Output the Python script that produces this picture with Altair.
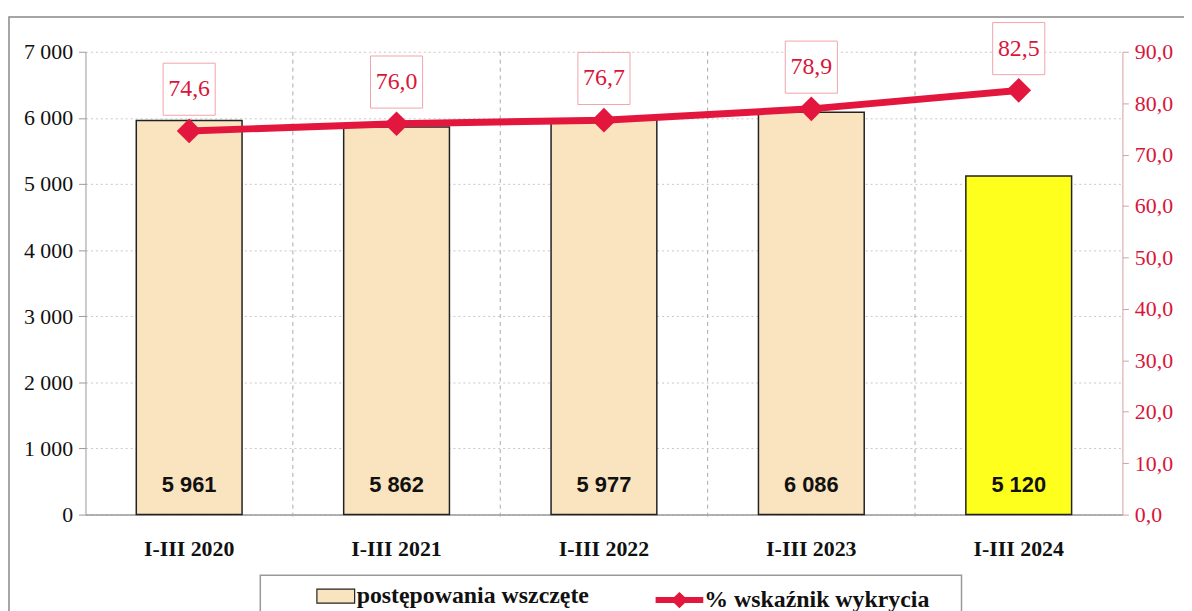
import altair as alt
import pandas as pd

categories = ["I-III 2020", "I-III 2021", "I-III 2022", "I-III 2023", "I-III 2024"]
cases = [5961, 5862, 5977, 6086, 5120]
rates = [74.6, 76.0, 76.7, 78.9, 82.5]
bar_series = "postępowania wszczęte"
line_series = "% wskaźnik wykrycia"

df = pd.DataFrame({
    "cat": categories,
    "cases": cases,
    "rate": rates,
    "s1": [bar_series] * len(categories),
    "s2": [line_series] * len(categories),
})
bounds = pd.DataFrame({"cat": categories[:-1]})
one = pd.DataFrame({"a": [0]})

W, H = 1044, 466
STEP = W / len(categories)
SERIF = "Liberation Serif"
RED = "#e3173e"
LABEL_RED = "#d8163a"

xaxis = alt.Axis(title=None, labelAngle=0, labelAlign="center", labelBaseline="top",
                 labelFont=SERIF, labelFontSize=22, labelFontWeight="bold", labelColor="#111",
                 ticks=False, grid=False, domainColor="#999", domainWidth=1.5, labelPadding=24)
xenc = alt.X("cat:N", sort=categories,
             scale=alt.Scale(paddingInner=0.49, paddingOuter=0.245), axis=xaxis)

bars = alt.Chart(df).mark_bar(stroke="#222", strokeWidth=1.5).encode(
    x=xenc,
    y=alt.Y("cases:Q", scale=alt.Scale(domain=[0, 7000]),
            axis=alt.Axis(title=None, values=list(range(0, 7001, 1000)), format=",.0f",
                          labelFont=SERIF, labelFontSize=22, labelColor="#111",
                          grid=True, gridDash=[2, 3], gridColor="#c8c8c8",
                          domainColor="#999", tickColor="#999", tickSize=7, labelPadding=6)),
    fill=alt.condition(
        alt.datum.cat == "I-III 2024",
        alt.value("#ffff1e"),
        alt.Fill("s1:N", scale=alt.Scale(domain=[bar_series], range=["#f9e4bf"]),
                 legend=alt.Legend(title=None, orient="none", legendX=232, legendY=528,
                                   symbolType="M-1,-0.37H1V0.37H-1Z", symbolSize=1444,
                                   symbolStrokeColor="#222", symbolStrokeWidth=1.2,
                                   labelFont=SERIF, labelFontSize=24, labelFontWeight="bold",
                                   labelColor="#111", labelOffset=1, labelLimit=0, padding=0)),
    ),
)

bar_labels = alt.Chart(df).mark_text(
    font="Liberation Sans", fontWeight="bold", fontSize=22, color="#111", dy=-30
).encode(x=xenc, y=alt.Y(datum=0), text=alt.Text("cases:Q", format=",.0f"))

vrules = alt.Chart(bounds).mark_rule(
    xOffset=STEP / 2, strokeDash=[4, 4], color="#aaa", strokeWidth=1
).encode(x=xenc, y=alt.value(0), y2=alt.value(H + 6))

legend_box = alt.Chart(one).mark_rect(fill=None, stroke="#999", strokeWidth=1.5).encode(
    x=alt.value(176), x2=alt.value(882), y=alt.value(527), y2=alt.value(620))

frame = alt.Chart(one).mark_rect(fill=None, stroke="#888", strokeWidth=1.5).encode(
    x=alt.value(-77), x2=alt.value(1140), y=alt.value(-35), y2=alt.value(620))

left = alt.layer(frame, vrules, bars, bar_labels, legend_box)

yr = alt.Y("rate:Q", scale=alt.Scale(domain=[0, 90]),
           axis=alt.Axis(title=None, orient="right", values=list(range(0, 91, 10)), format=".1f",
                         labelFont=SERIF, labelFontSize=22, labelColor=LABEL_RED,
                         grid=False, domainColor="#d4a0a4", tickColor="#d4a0a4",
                         tickSize=6, labelPadding=6))

line = alt.Chart(df).mark_line(color=RED, strokeWidth=7).encode(x=xenc, y=yr)
boxes = alt.Chart(df).mark_point(
    shape="square", filled=True, fill="white", stroke="#f0a4aa", strokeWidth=1,
    size=2750, opacity=1, yOffset=-42
).encode(x=xenc, y=yr)
points = alt.Chart(df).mark_point(shape="diamond", filled=True, size=620, opacity=1).encode(
    x=xenc, y=yr,
    fill=alt.Fill("s2:N", scale=alt.Scale(domain=[line_series], range=[RED]),
                  legend=alt.Legend(title=None, orient="none", legendX=574, legendY=528,
                                    symbolType="M-1,-0.13H1V0.13H-1Z M0,-0.34L0.36,0L0,0.34L-0.36,0Z",
                                    symbolSize=2304, symbolStrokeWidth=0,
                                    labelFont=SERIF, labelFontSize=24, labelFontWeight="bold",
                                    labelColor="#111", labelOffset=1, labelLimit=0, padding=0)),
)
labels = alt.Chart(df).mark_text(font=SERIF, fontSize=24, color=LABEL_RED, dy=-42).encode(
    x=xenc, y=yr, text=alt.Text("rate:Q", format=".1f"))

right = alt.layer(line, boxes, points, labels)

chart = alt.layer(left, right).resolve_scale(y="independent", fill="independent").properties(
    width=W, height=H,
    autosize=alt.AutoSizeParams(type="none"),
    padding={"left": 78, "top": 42, "right": 62, "bottom": 95},
).configure(
    font=SERIF,
    locale={"number": {"decimal": ",", "thousands": "\u00a0", "grouping": [3], "currency": ["", ""]}}
).configure_view(stroke=None)

chart.save("out.html", embed_options={"renderer": "svg", "actions": False})
